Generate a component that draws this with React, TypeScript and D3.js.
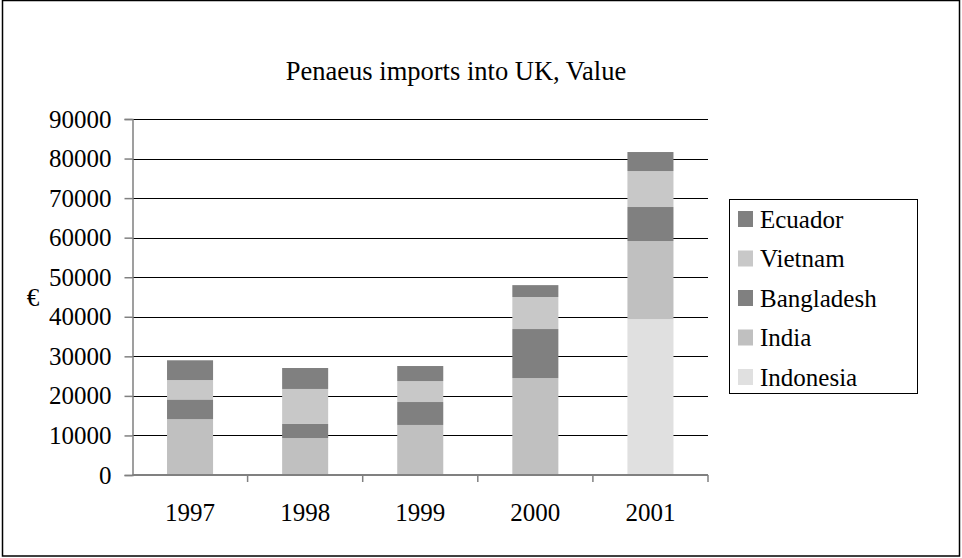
import React, { useEffect, useRef } from 'react';
import * as d3 from 'd3';

const years = ['1997', '1998', '1999', '2000', '2001'];
const seriesNames = ['Indonesia', 'India', 'Bangladesh', 'Vietnam', 'Ecuador'];
const indonesia = [0, 0, 0, 0, 39400];
const india = [14100, 9350, 12650, 24500, 19750];
const bangladesh = [5000, 3550, 5800, 12400, 8600];
const vietnam = [4900, 8850, 5300, 8100, 9100];
const ecuador = [5000, 5300, 3800, 3000, 4800];
const yTicks = [0, 10000, 20000, 30000, 40000, 50000, 60000, 70000, 80000, 90000];
const colors = ['#e0e0e0', '#c0c0c0', '#808080', '#c8c8c8', '#808080'];

const FONT = 'Liberation Serif, Times New Roman, serif';

const App = () => {
  const chartRef = useRef(null);

  useEffect(() => {
    const width = 962;
    const height = 558;
    const plot = { left: 132.5, right: 708, top: 119, bottom: 475 };

    const rows = years.map((y, i) => ({
      year: y,
      Indonesia: indonesia[i],
      India: india[i],
      Bangladesh: bangladesh[i],
      Vietnam: vietnam[i],
      Ecuador: ecuador[i],
    }));
    const stacked = d3.stack().keys(seriesNames)(rows);

    const svg = d3.select(chartRef.current)
      .append('svg')
      .attr('width', width)
      .attr('height', height)
      .attr('font-family', FONT)
      .style('position', 'absolute')
      .style('left', 0)
      .style('top', 0);

    svg.append('rect')
      .attr('x', 2.5).attr('y', 0.5)
      .attr('width', 957).attr('height', 555.5)
      .attr('fill', 'white')
      .attr('stroke', '#000')
      .attr('stroke-width', 1.5);

    const xScale = d3.scaleBand()
      .domain(years)
      .range([plot.left, plot.right])
      .paddingInner(0.6)
      .paddingOuter(0.3);

    const yScale = d3.scaleLinear()
      .domain([0, 90000])
      .range([plot.bottom, plot.top]);

    // gridlines
    svg.append('g')
      .selectAll('line')
      .data(yTicks.slice(1))
      .enter()
      .append('line')
      .attr('x1', plot.left).attr('x2', plot.right)
      .attr('y1', (d) => Math.round(yScale(d)) + 0.5)
      .attr('y2', (d) => Math.round(yScale(d)) + 0.5)
      .attr('stroke', '#000')
      .attr('stroke-width', 1);

    svg.append('g')
      .selectAll('g')
      .data(stacked)
      .enter()
      .append('g')
      .attr('fill', (d, i) => colors[i])
      .selectAll('rect')
      .data((d) => d)
      .enter()
      .append('rect')
      .attr('x', (d) => xScale(d.data.year))
      .attr('y', (d) => yScale(d[1]))
      .attr('width', xScale.bandwidth())
      .attr('height', (d) => yScale(d[0]) - yScale(d[1]));

    // y axis
    const yAxis = svg.append('g')
      .attr('transform', `translate(${plot.left}, 0)`)
      .call(d3.axisLeft(yScale).tickValues(yTicks).tickSize(8).tickPadding(13).tickFormat(d3.format('d')));
    yAxis.attr('font-family', FONT).attr('font-size', 25);
    yAxis.select('.domain').attr('stroke', '#808080').attr('stroke-width', 1.5);
    yAxis.selectAll('.tick line').attr('stroke', '#808080').attr('stroke-width', 1.5);
    yAxis.selectAll('text').attr('fill', '#000');

    // x axis
    const band = (plot.right - plot.left) / years.length;
    const xAxis = svg.append('g')
      .attr('transform', `translate(0, ${plot.bottom})`);
    xAxis.append('line')
      .attr('x1', plot.left).attr('x2', plot.right)
      .attr('y1', 0).attr('y2', 0)
      .attr('stroke', '#808080').attr('stroke-width', 2);
    xAxis.selectAll('.cat-tick')
      .data(d3.range(1, years.length + 1))
      .enter()
      .append('line')
      .attr('x1', (d) => plot.left + d * band)
      .attr('x2', (d) => plot.left + d * band)
      .attr('y1', 0).attr('y2', 7)
      .attr('stroke', '#808080').attr('stroke-width', 1.5);
    xAxis.selectAll('.cat-label')
      .data(years)
      .enter()
      .append('text')
      .attr('x', (d) => xScale(d) + xScale.bandwidth() / 2)
      .attr('y', 46)
      .attr('text-anchor', 'middle')
      .attr('font-size', 25)
      .text((d) => d);

    svg.append('text')
      .attr('x', 33).attr('y', 306)
      .attr('text-anchor', 'middle')
      .attr('font-size', 25)
      .text('€');

    svg.append('text')
      .attr('x', 456).attr('y', 80)
      .attr('text-anchor', 'middle')
      .attr('font-size', 26.5)
      .text('Penaeus imports into UK, Value');

    // legend (top entry is last series)
    const legend = svg.append('g');
    legend.append('rect')
      .attr('x', 729.5).attr('y', 199.5)
      .attr('width', 188).attr('height', 194)
      .attr('fill', 'white')
      .attr('stroke', '#000')
      .attr('stroke-width', 1);
    const legendItems = seriesNames.map((s, i) => ({ name: s, color: colors[i] })).reverse();
    const entry = legend.selectAll('.entry')
      .data(legendItems)
      .enter()
      .append('g')
      .attr('transform', (d, i) => `translate(738, ${219 + i * 39.5})`);
    entry.append('rect')
      .attr('x', 0).attr('y', -8)
      .attr('width', 15).attr('height', 16)
      .attr('fill', (d) => d.color);
    entry.append('text')
      .attr('x', 22).attr('y', 8.5)
      .attr('font-size', 25)
      .text((d) => d.name);

    return () => {
      d3.select(chartRef.current).selectAll('svg').remove();
    };
  }, []);

  return <div ref={chartRef} />;
};

export default App;
